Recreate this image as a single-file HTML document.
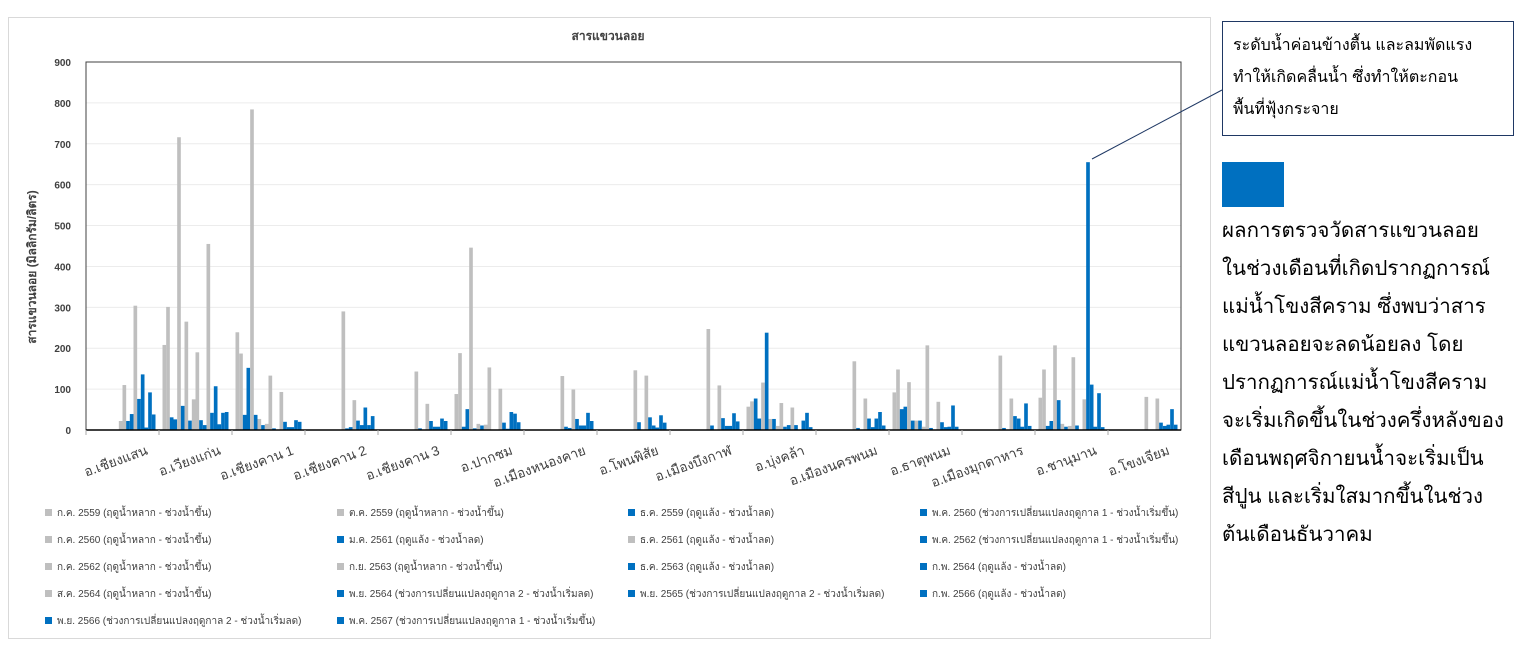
<!DOCTYPE html>
<html><head><meta charset="utf-8">
<style>
body{margin:0;background:#fff;width:1525px;height:645px;overflow:hidden;font-family:"Liberation Sans","Noto Sans CJK SC",sans-serif;}
#chartbox{position:absolute;left:8px;top:17px;width:1203px;height:622px;border:1px solid #d9d9d9;box-sizing:border-box;}
#note{position:absolute;left:1222px;top:21px;width:292px;height:115px;border:1px solid #1f3864;box-sizing:border-box;padding:8px 10px;font-size:16px;line-height:32px;color:#000;}
#swatch{position:absolute;left:1222px;top:162px;width:62px;height:45px;background:#0070c0;}
#desc{position:absolute;left:1222px;top:212px;width:300px;font-size:20.5px;line-height:38px;color:#000;}
</style></head><body>
<div id="chartbox"></div>
<svg id="chart" width="1215" height="645" style="position:absolute;left:0;top:0">
<g id="grid"></g><g id="bars"></g><g id="axes"></g><g id="legend"></g>
</svg>
<svg width="1525" height="645" style="position:absolute;left:0;top:0;pointer-events:none">
<line x1="1092" y1="159" x2="1222" y2="90" stroke="#1f3864" stroke-width="1"/>
</svg>
<div id="note">ระดับน้ำค่อนข้างตื้น และลมพัดแรง<br>ทำให้เกิดคลื่นน้ำ ซึ่งทำให้ตะกอน<br>พื้นที่ฟุ้งกระจาย</div>
<div id="swatch"></div>
<div id="desc">ผลการตรวจวัดสารแขวนลอย<br>ในช่วงเดือนที่เกิดปรากฏการณ์<br>แม่น้ำโขงสีคราม ซึ่งพบว่าสาร<br>แขวนลอยจะลดน้อยลง โดย<br>ปรากฏการณ์แม่น้ำโขงสีคราม<br>จะเริ่มเกิดขึ้นในช่วงครึ่งหลังของ<br>เดือนพฤศจิกายนน้ำจะเริ่มเป็น<br>สีปูน และเริ่มใสมากขึ้นในช่วง<br>ต้นเดือนธันวาคม</div>
<script>
const categories=["อ.เชียงแสน","อ.เวียงแก่น","อ.เชียงคาน 1","อ.เชียงคาน 2","อ.เชียงคาน 3","อ.ปากชม","อ.เมืองหนองคาย","อ.โพนพิสัย","อ.เมืองบึงกาฬ","อ.บุ่งคล้า","อ.เมืองนครพนม","อ.ธาตุพนม","อ.เมืองมุกดาหาร","อ.ชานุมาน","อ.โขงเจียม"];
const seriesNames=["ก.ค. 2559 (ฤดูน้ำหลาก - ช่วงน้ำขึ้น)","ต.ค. 2559 (ฤดูน้ำหลาก - ช่วงน้ำขึ้น)","ธ.ค. 2559 (ฤดูแล้ง - ช่วงน้ำลด)","พ.ค. 2560 (ช่วงการเปลี่ยนแปลงฤดูกาล 1 - ช่วงน้ำเริ่มขึ้น)","ก.ค. 2560 (ฤดูน้ำหลาก - ช่วงน้ำขึ้น)","ม.ค. 2561 (ฤดูแล้ง - ช่วงน้ำลด)","ธ.ค. 2561 (ฤดูแล้ง - ช่วงน้ำลด)","พ.ค. 2562 (ช่วงการเปลี่ยนแปลงฤดูกาล 1 - ช่วงน้ำเริ่มขึ้น)","ก.ค. 2562 (ฤดูน้ำหลาก - ช่วงน้ำขึ้น)","ก.ย. 2563 (ฤดูน้ำหลาก - ช่วงน้ำขึ้น)","ธ.ค. 2563 (ฤดูแล้ง - ช่วงน้ำลด)","ก.พ. 2564 (ฤดูแล้ง - ช่วงน้ำลด)","ส.ค. 2564 (ฤดูน้ำหลาก - ช่วงน้ำขึ้น)","พ.ย. 2564 (ช่วงการเปลี่ยนแปลงฤดูกาล 2 - ช่วงน้ำเริ่มลด)","พ.ย. 2565 (ช่วงการเปลี่ยนแปลงฤดูกาล 2 - ช่วงน้ำเริ่มลด)","ก.พ. 2566 (ฤดูแล้ง - ช่วงน้ำลด)","พ.ย. 2566 (ช่วงการเปลี่ยนแปลงฤดูกาล 2 - ช่วงน้ำเริ่มลด)","พ.ค. 2567 (ช่วงการเปลี่ยนแปลงฤดูกาล 1 - ช่วงน้ำเริ่มขึ้น)"];
const seriesColors=["#bfbfbf","#bfbfbf","#0070c0","#0070c0","#bfbfbf","#0070c0","#bfbfbf","#0070c0","#bfbfbf","#bfbfbf","#0070c0","#0070c0","#bfbfbf","#0070c0","#0070c0","#0070c0","#0070c0","#0070c0"];
const v_chiangsaen=[0,0,0,0,0,0,0,0,22,110,22,39,304,76,136,6,92,38];
const v_wiangkaen=[208,301,31,26,716,59,265,23,75,190,24,12,455,42,107,14,42,44];
const v_chiangkhan1=[239,187,37,152,784,37,27,12,15,133,4,0,93,20,7,7,24,20];
const v_chiangkhan2=[0,0,0,0,0,0,0,0,0,290,4,7,73,23,12,55,12,34];
const v_chiangkhan3=[0,0,0,0,0,0,0,0,0,143,4,0,64,22,8,8,28,22];
const v_pakchom=[88,188,8,51,446,4,15,11,13,153,0,0,101,18,3,44,40,19];
const v_nongkhai=[0,0,0,0,0,0,0,0,0,132,8,5,99,27,11,11,42,22];
const v_phonphisai=[0,0,0,0,0,0,0,0,0,146,19,0,133,31,11,6,36,18];
const v_buengkan=[0,0,0,0,0,0,0,0,0,247,11,0,109,29,10,10,41,21];
const v_bungkhla=[57,70,77,28,116,238,27,27,10,66,8,12,55,12,0,23,42,7];
const v_nakhonphanom=[0,0,0,0,0,0,0,0,0,168,5,0,77,28,7,28,44,11];
const v_thatphanom=[92,148,51,57,117,23,23,23,8,207,5,0,69,19,7,8,60,8];
const v_mukdahan=[0,0,0,0,0,0,0,0,0,182,5,0,77,34,28,8,65,10];
const v_chanuman=[79,148,10,22,207,73,15,8,10,178,11,0,75,655,111,8,90,7];
const v_khongchiam=[0,0,0,0,0,0,0,0,0,81,0,0,77,18,10,13,51,13];
const values=[v_chiangsaen,v_wiangkaen,v_chiangkhan1,v_chiangkhan2,v_chiangkhan3,v_pakchom,v_nongkhai,v_phonphisai,v_buengkan,v_bungkhla,v_nakhonphanom,v_thatphanom,v_mukdahan,v_chanuman,v_khongchiam];
const yTicks=[0,100,200,300,400,500,600,700,800,900];

const NS="http://www.w3.org/2000/svg";
const X0=86,X1=1181,Y0=430,Y1=62,YMAX=900;
const catW=(X1-X0)/categories.length;
const barW=(catW-7)/seriesNames.length;
function yScale(v){return Y0-(v/YMAX)*(Y0-Y1);}
function xBar(c,s){return X0+c*catW+3.5+s*barW;}
function mk(tag,attrs,parent){const e=document.createElementNS(NS,tag);for(const k in attrs)e.setAttribute(k,attrs[k]);parent.appendChild(e);return e;}
const grid=document.getElementById('grid'),bars=document.getElementById('bars'),axes=document.getElementById('axes'),leg=document.getElementById('legend');
const svg=document.getElementById('chart');
let t=mk('text',{x:608,y:40,'text-anchor':'middle','font-size':12,'font-weight':'bold',fill:'#404040'},svg);


t.textContent='สารแขวนลอย';
t=mk('text',{x:0,y:0,'text-anchor':'middle','font-size':12,'font-weight':'bold',fill:'#404040',transform:'translate(36,267) rotate(-90)'},svg);


t.textContent='สารแขวนลอย (มิลลิกรัม/ลิตร)';
yTicks.forEach(v=>{
  const y=yScale(v);
  if(v>0){const l=mk('line',{x1:X0,x2:X1,y1:y,y2:y,stroke:'#ececec'},grid);
  
  }
  const tx=mk('text',{x:71,y:y+4,'text-anchor':'end','font-size':10,'font-weight':'bold',fill:'#404040'},axes);
  
  
  tx.textContent=v;
});
let r=mk('rect',{x:X0,y:Y1,width:X1-X0,height:Y0-Y1,fill:'none',stroke:'#404040','stroke-width':1},axes);


r=mk('line',{x1:X0,x2:X1,y1:Y0,y2:Y0,stroke:'#000','stroke-width':1.5},axes);


categories.forEach((c,ci)=>{
  const tk=mk('line',{x1:X0+ci*catW,x2:X0+ci*catW,y1:Y0,y2:Y0+5,stroke:'#aaa'},axes);
  
  
  const cx=X0+ci*catW+catW/2;
  const lb=mk('text',{x:0,y:0,'text-anchor':'end','font-size':13.5,fill:'#404040',transform:`translate(${cx+26},${Y0+24}) rotate(-20)`},axes);
  
  
  lb.textContent=c;
  values[ci].forEach((v,si)=>{
    if(!v)return;
    const y=yScale(v);
    const b=mk('rect',{x:xBar(ci,si),y:y,width:barW,height:Y0-y,fill:seriesColors[si]},bars);
    
    
  });
});
const colX=[45,337,628,920],rowY=[513,540,567,594,621];
seriesNames.forEach((n,i)=>{
  const cx=colX[i%4],cy=rowY[Math.floor(i/4)];
  const g=mk('g',{},leg);
  
  
  mk('rect',{x:cx,y:cy-4,width:7,height:7,fill:seriesColors[i]},g);
  const tx=mk('text',{x:cx+12,y:cy+3,'font-size':10,fill:'#404040'},g);
  tx.textContent=n;
});
</script>
</body></html>
